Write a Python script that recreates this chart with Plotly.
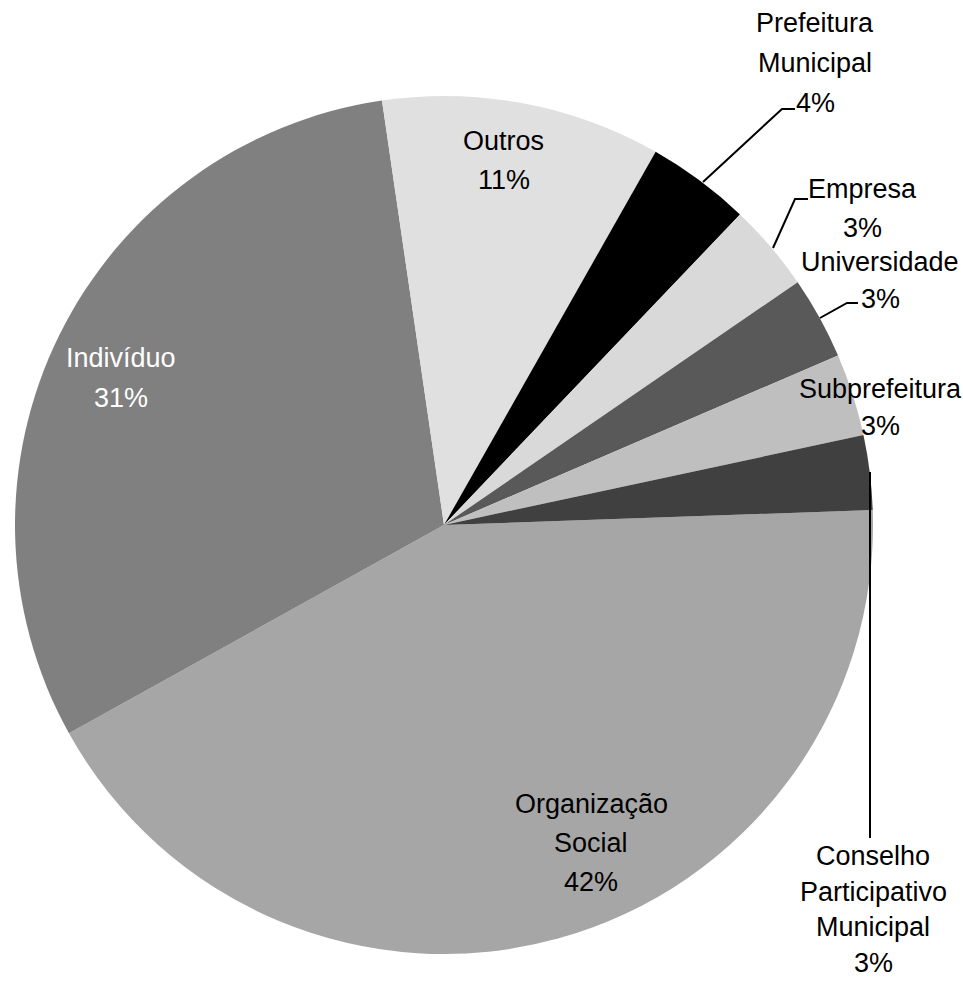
import plotly.graph_objects as go

W, H = 963, 982

labels = ["Organização Social", "Indivíduo", "Outros", "Prefeitura Municipal",
          "Empresa", "Universidade", "Subprefeitura", "Conselho Participativo Municipal"]
values = [42.4, 30.7, 10.5, 3.9, 3.3, 3.1, 3.1, 2.8]
pct_text = ["42%", "31%", "11%", "4%", "3%", "3%", "3%", "3%"]
display_lines = [["Organização", "Social"], ["Indivíduo"], ["Outros"], ["Prefeitura", "Municipal"],
                 ["Empresa"], ["Universidade"], ["Subprefeitura"],
                 ["Conselho", "Participativo", "Municipal"]]
colors = ["#a6a6a6", "#808080", "#e0e0e0", "#000000",
          "#d9d9d9", "#595959", "#bfbfbf", "#404040"]
text_colors = ["black", "white", "black", "black", "black", "black", "black", "black"]

# label block: center x, first-line center y, line spacing (pixels)
label_pos = [(591, 804, 39), (121, 358, 40), (504, 141, 39), (815, 23, 40),
             (862, 189, 39), (880, 262, 37), (880, 389, 37), (873, 856, 35.5)]

# leader lines (pixels)
leaders = [
    [(703, 182), (782, 109), (795, 109)],
    [(773, 248), (795, 199), (808, 199)],
    [(820, 318), (847, 303), (858, 303)],
    [(870, 472), (870, 838)],
]

cx, cy, r = 444, 525, 429

def px(x):
    return x / W

def py(y):
    return 1 - y / H

fig = go.Figure(go.Pie(
    labels=labels, values=values, sort=False, direction="clockwise", rotation=88,
    marker=dict(colors=colors, line=dict(width=0)),
    textinfo="none", textposition="none", hoverinfo="label+percent",
    domain=dict(x=[px(cx - r), px(cx + r)], y=[py(cy + r), py(cy - r)]),
    showlegend=False,
))

FONT = "Liberation Sans, Arial, sans-serif"
for lines, p, c, (x, y0, dy) in zip(display_lines, pct_text, text_colors, label_pos):
    for i, t in enumerate(lines + [p]):
        fig.add_annotation(x=px(x), y=py(y0 + i * dy), xref="paper", yref="paper",
                           text=t, showarrow=False,
                           xanchor="center", yanchor="middle",
                           font=dict(family=FONT, size=27, color=c))

for pts in leaders:
    path = "M " + " L ".join(f"{px(x)},{py(y)}" for x, y in pts)
    fig.add_shape(type="path", path=path, xref="paper", yref="paper",
                  line=dict(color="black", width=2))

fig.update_layout(width=W, height=H, margin=dict(l=0, r=0, t=0, b=0),
                  paper_bgcolor="white", plot_bgcolor="white")
fig.write_html("out.html")
